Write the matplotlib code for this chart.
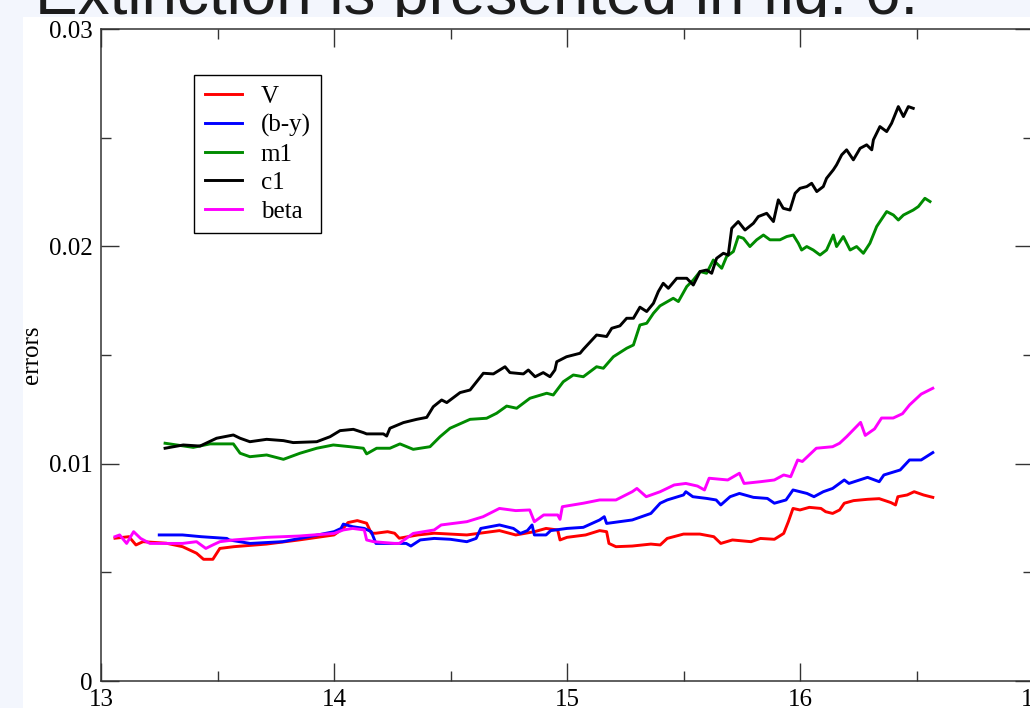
import matplotlib
matplotlib.use("Agg")
import matplotlib.pyplot as plt
from matplotlib.patches import Rectangle
from matplotlib.ticker import MultipleLocator, FuncFormatter

plt.rcParams["font.family"] = ["Liberation Serif", "DejaVu Serif"]

# error curves, one pair of lists per index
v_x = [13.06, 13.12, 13.15, 13.18, 13.28, 13.35, 13.41, 13.44, 13.48, 13.51,
       13.57, 13.71, 13.85, 14.00, 14.04, 14.06, 14.10, 14.14, 14.16, 14.18,
       14.23, 14.26, 14.28, 14.36, 14.43, 14.57, 14.71, 14.78, 14.86, 14.91,
       14.96, 14.97, 15.00, 15.08, 15.14, 15.17, 15.18, 15.21, 15.28, 15.36,
       15.40, 15.43, 15.50, 15.57, 15.63, 15.66, 15.71, 15.79, 15.83, 15.89,
       15.93, 15.95, 15.97, 16.00, 16.04, 16.09, 16.11, 16.14, 16.17, 16.19,
       16.23, 16.29, 16.34, 16.39, 16.41, 16.42, 16.46, 16.49, 16.53, 16.57]
v_y = [0.00657, 0.00664, 0.00626, 0.00641, 0.00634, 0.00618, 0.00588, 0.00560, 0.00560, 0.00610,
       0.00618, 0.00630, 0.00649, 0.00672, 0.00703, 0.00729, 0.00738, 0.00726, 0.00680, 0.00680,
       0.00687, 0.00680, 0.00657, 0.00672, 0.00680, 0.00672, 0.00692, 0.00672, 0.00687, 0.00702,
       0.00695, 0.00649, 0.00661, 0.00672, 0.00692, 0.00687, 0.00633, 0.00618, 0.00621, 0.00630,
       0.00626, 0.00656, 0.00676, 0.00676, 0.00664, 0.00633, 0.00649, 0.00641, 0.00656, 0.00652,
       0.00679, 0.00733, 0.00794, 0.00787, 0.00799, 0.00794, 0.00779, 0.00771, 0.00787, 0.00818,
       0.00830, 0.00836, 0.00839, 0.00821, 0.00810, 0.00848, 0.00856, 0.00871, 0.00856, 0.00845]

by_x = [13.25, 13.35, 13.43, 13.54, 13.55, 13.64, 13.78, 13.93, 14.00, 14.03,
        14.04, 14.08, 14.13, 14.16, 14.18, 14.26, 14.31, 14.33, 14.37, 14.43,
        14.50, 14.57, 14.61, 14.63, 14.71, 14.77, 14.80, 14.83, 14.85, 14.86,
        14.91, 14.93, 15.00, 15.07, 15.14, 15.16, 15.17, 15.28, 15.36, 15.40,
        15.43, 15.50, 15.51, 15.54, 15.60, 15.64, 15.66, 15.70, 15.74, 15.80,
        15.86, 15.89, 15.94, 15.97, 16.03, 16.06, 16.10, 16.14, 16.19, 16.21,
        16.29, 16.34, 16.36, 16.43, 16.47, 16.52, 16.57]
by_y = [0.00672, 0.00672, 0.00664, 0.00656, 0.00649, 0.00633, 0.00641, 0.00672, 0.00687, 0.00702,
        0.00722, 0.00710, 0.00702, 0.00687, 0.00633, 0.00633, 0.00633, 0.00621, 0.00649, 0.00656,
        0.00652, 0.00641, 0.00656, 0.00702, 0.00718, 0.00702, 0.00679, 0.00692, 0.00718, 0.00672,
        0.00672, 0.00692, 0.00702, 0.00707, 0.00741, 0.00756, 0.00725, 0.00741, 0.00771, 0.00818,
        0.00833, 0.00856, 0.00871, 0.00848, 0.00840, 0.00833, 0.00810, 0.00848, 0.00863, 0.00845,
        0.00840, 0.00818, 0.00833, 0.00879, 0.00863, 0.00848, 0.00871, 0.00886, 0.00925, 0.00909,
        0.00937, 0.00917, 0.00948, 0.00971, 0.01017, 0.01017, 0.01051]

m1_x = [13.275, 13.325, 13.396, 13.468, 13.568, 13.597, 13.639, 13.711, 13.783, 13.854,
        13.926, 13.997, 14.069, 14.126, 14.140, 14.183, 14.240, 14.283, 14.340, 14.412,
        14.455, 14.498, 14.584, 14.655, 14.698, 14.741, 14.784, 14.841, 14.913, 14.941,
        14.984, 15.027, 15.070, 15.127, 15.156, 15.199, 15.256, 15.285, 15.313, 15.342,
        15.371, 15.399, 15.456, 15.478, 15.514, 15.542, 15.571, 15.599, 15.628, 15.664,
        15.685, 15.714, 15.735, 15.757, 15.785, 15.814, 15.843, 15.871, 15.914, 15.943,
        15.971, 15.993, 16.007, 16.029, 16.057, 16.086, 16.114, 16.143, 16.157, 16.186,
        16.215, 16.243, 16.272, 16.300, 16.329, 16.372, 16.401, 16.422, 16.444, 16.486,
        16.508, 16.536, 16.558]
m1_y = [0.01094, 0.01086, 0.01075, 0.01091, 0.01091, 0.01048, 0.01032, 0.01040, 0.01020, 0.01048,
        0.01071, 0.01086, 0.01078, 0.01071, 0.01045, 0.01071, 0.01071, 0.01091, 0.01066, 0.01078,
        0.01124, 0.01163, 0.01204, 0.01209, 0.01232, 0.01265, 0.01255, 0.01301, 0.01324, 0.01316,
        0.01377, 0.01408, 0.01400, 0.01446, 0.01439, 0.01492, 0.01531, 0.01546, 0.01638, 0.01646,
        0.01692, 0.01726, 0.01761, 0.01746, 0.01815, 0.01845, 0.01884, 0.01876, 0.01937, 0.01899,
        0.01953, 0.01976, 0.02045, 0.02037, 0.01999, 0.02030, 0.02052, 0.02030, 0.02030, 0.02045,
        0.02052, 0.02014, 0.01983, 0.01999, 0.01983, 0.01960, 0.01983, 0.02052, 0.01999, 0.02045,
        0.01983, 0.01999, 0.01968, 0.02014, 0.02091, 0.02160, 0.02144, 0.02121, 0.02144, 0.02167,
        0.02183, 0.02221, 0.02206]

c1_x = [13.275, 13.353, 13.425, 13.496, 13.568, 13.597, 13.639, 13.711, 13.783, 13.825,
        13.926, 13.983, 14.026, 14.083, 14.126, 14.140, 14.212, 14.226, 14.240, 14.298,
        14.355, 14.398, 14.426, 14.462, 14.484, 14.541, 14.584, 14.641, 14.684, 14.734,
        14.755, 14.813, 14.834, 14.863, 14.898, 14.927, 14.948, 14.956, 14.998, 15.056,
        15.070, 15.127, 15.170, 15.192, 15.227, 15.256, 15.285, 15.313, 15.342, 15.371,
        15.392, 15.413, 15.435, 15.471, 15.514, 15.542, 15.571, 15.599, 15.621, 15.642,
        15.671, 15.692, 15.707, 15.735, 15.764, 15.800, 15.821, 15.857, 15.886, 15.907,
        15.928, 15.957, 15.979, 16.000, 16.029, 16.050, 16.072, 16.100, 16.114, 16.143,
        16.157, 16.179, 16.200, 16.229, 16.258, 16.286, 16.308, 16.315, 16.343, 16.372,
        16.393, 16.422, 16.444, 16.465, 16.486]
c1_y = [0.01071, 0.01086, 0.01081, 0.01117, 0.01132, 0.01117, 0.01101, 0.01112, 0.01106, 0.01097,
        0.01101, 0.01124, 0.01152, 0.01158, 0.01143, 0.01137, 0.01137, 0.01127, 0.01163, 0.01189,
        0.01204, 0.01213, 0.01262, 0.01293, 0.01281, 0.01327, 0.01339, 0.01416, 0.01413, 0.01446,
        0.01419, 0.01413, 0.01431, 0.01400, 0.01419, 0.01400, 0.01431, 0.01469, 0.01492, 0.01508,
        0.01526, 0.01592, 0.01585, 0.01623, 0.01634, 0.01669, 0.01669, 0.01720, 0.01700, 0.01738,
        0.01792, 0.01830, 0.01807, 0.01853, 0.01853, 0.01822, 0.01884, 0.01891, 0.01876, 0.01945,
        0.01968, 0.01960, 0.02083, 0.02114, 0.02075, 0.02106, 0.02137, 0.02152, 0.02114, 0.02214,
        0.02175, 0.02167, 0.02244, 0.02267, 0.02275, 0.02290, 0.02252, 0.02275, 0.02313, 0.02352,
        0.02375, 0.02421, 0.02444, 0.02398, 0.02451, 0.02467, 0.02444, 0.02490, 0.02551, 0.02528,
        0.02566, 0.02643, 0.02597, 0.02643, 0.02635]

beta_x = [13.06, 13.08, 13.11, 13.14, 13.17, 13.21, 13.35, 13.41, 13.45, 13.48,
          13.51, 13.57, 13.71, 13.85, 14.00, 14.04, 14.08, 14.13, 14.14, 14.17,
          14.26, 14.28, 14.34, 14.43, 14.46, 14.57, 14.64, 14.71, 14.78, 14.84,
          14.86, 14.90, 14.96, 14.97, 14.98, 15.07, 15.14, 15.21, 15.28, 15.30,
          15.34, 15.40, 15.46, 15.51, 15.56, 15.59, 15.61, 15.69, 15.74, 15.76,
          15.83, 15.89, 15.93, 15.96, 15.99, 16.01, 16.07, 16.14, 16.17, 16.20,
          16.26, 16.28, 16.32, 16.35, 16.40, 16.44, 16.47, 16.52, 16.57]
beta_y = [0.00664, 0.00672, 0.00633, 0.00687, 0.00656, 0.00633, 0.00633, 0.00641, 0.00610, 0.00626,
          0.00641, 0.00649, 0.00661, 0.00667, 0.00679, 0.00695, 0.00702, 0.00695, 0.00649, 0.00641,
          0.00633, 0.00633, 0.00679, 0.00695, 0.00718, 0.00733, 0.00756, 0.00794, 0.00784, 0.00787,
          0.00733, 0.00764, 0.00764, 0.00744, 0.00802, 0.00818, 0.00833, 0.00833, 0.00871, 0.00886,
          0.00848, 0.00871, 0.00902, 0.00909, 0.00897, 0.00879, 0.00933, 0.00925, 0.00956, 0.00909,
          0.00917, 0.00925, 0.00948, 0.00940, 0.01017, 0.01010, 0.01071, 0.01078, 0.01094, 0.01124,
          0.01190, 0.01130, 0.01160, 0.01210, 0.01210, 0.01230, 0.01270, 0.01320, 0.01347]

W, H = 1030, 708
fig = plt.figure(figsize=(W / 100, H / 100), dpi=100, facecolor="#f3f6fd")

# slide heading, partly hidden behind the white sheet
fig.text(35 / W, 1 - 14 / H, "Extinction is presented in fig. 6.",
         family="Liberation Sans", fontsize=46, color="#1c1c1c",
         va="baseline", ha="left", zorder=0)
fig.patches.append(Rectangle((23 / W, 0), 1, 1 - 17 / H, transform=fig.transFigure,
                             facecolor="white", edgecolor="none", zorder=1))

ax = fig.add_axes([101 / W, 1 - 681 / H, 932 / W, 652 / H])
ax.set_zorder(2)

series = [
    (v_x, v_y, "#ff0000", "V"),
    (by_x, by_y, "#0000ff", "(b-y)"),
    (m1_x, m1_y, "#008b00", "m1"),
    (c1_x, c1_y, "#000000", "c1"),
    (beta_x, beta_y, "#ff00ff", "beta"),
]
for xs, ys, col, name in series:
    ax.plot(xs, ys, color=col, lw=2.1, label=name)

ax.set_xlim(13, 17)
ax.set_ylim(0, 0.03)
ax.xaxis.set_major_locator(MultipleLocator(1))
ax.xaxis.set_minor_locator(MultipleLocator(0.5))
ax.yaxis.set_major_locator(MultipleLocator(0.01))
ax.yaxis.set_minor_locator(MultipleLocator(0.005))
ax.yaxis.set_major_formatter(FuncFormatter(lambda v, p: "0" if abs(v) < 1e-9 else f"{v:.2f}"))
ax.xaxis.set_major_formatter(FuncFormatter(lambda v, p: f"{v:.0f}"))

ax.tick_params(which="both", direction="in", top=True, right=True,
               width=1.0, color="#333333", labelsize=18, pad=6)
ax.tick_params(which="major", length=13)
ax.tick_params(which="minor", length=7)
for s in ax.spines.values():
    s.set_linewidth(1.1)
    s.set_color("#333333")

ax.set_ylabel("errors", fontsize=18)
ax.yaxis.set_label_coords(-0.062, 0.5)

leg = ax.legend(loc="upper left", bbox_to_anchor=(0.0998, 0.9294), borderaxespad=0,
                fontsize=18, fancybox=False, edgecolor="black", framealpha=1,
                handlelength=1.5, handletextpad=0.75, labelspacing=0.24, borderpad=0.42)
leg.get_frame().set_linewidth(1.0)

fig.savefig("out.png", dpi=100, facecolor=fig.get_facecolor())
